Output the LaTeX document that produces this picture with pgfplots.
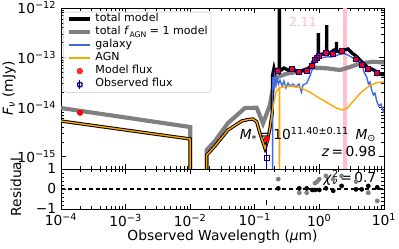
\documentclass[border=0pt]{standalone}
\usepackage{fontspec}
\setmainfont{DejaVu Sans}
\usepackage{pgfplots}
\pgfplotsset{compat=1.18}
\definecolor{mgray}{RGB}{128,128,128}
\definecolor{royal}{RGB}{65,105,225}
\definecolor{agn}{RGB}{255,165,0}
\definecolor{obsblue}{RGB}{0,0,139}
\definecolor{bandpink}{RGB}{255,192,203}
\newcommand{\lsub}[1]{\raisebox{-0.28em}{\fontsize{5.6}{6}\selectfont #1}}
\begin{document}
\begin{tikzpicture}
\pgfplotsset{
  every axis/.append style={
    scale only axis, width=234pt, xmode=log, xmin=1e-4, xmax=10,
    tick align=inside, major tick length=3.5pt, minor tick length=2pt,
    axis line style={line width=0.6pt}, every tick/.style={black, line width=0.5pt},
    xtick={1e-4,1e-3,1e-2,1e-1,1,10},
  }
}
% ---------------- top panel ----------------
\begin{axis}[at={(0,29pt)}, height=116.6pt, ymode=log, ymin=5.7e-16, ymax=1e-12,
  xticklabels={},
  ytick={1e-15,1e-14,1e-13,1e-12},
  yticklabels={10\textsuperscript{−15},10\textsuperscript{−14},10\textsuperscript{−13},10\textsuperscript{−12}},
  ylabel={\textit{F}\textsubscript{\textit{ν}} (mJy)},
  ylabel style={at={(axis description cs:-0.161,0.5)}, anchor=center},
  legend cell align=left,
  legend style={at={(0.007,0.977)}, anchor=north west, font=\fontsize{8}{9}\selectfont,
    draw=black!20, fill=white, fill opacity=0.8, text opacity=1, rounded corners=2pt,
    row sep=3.6pt, inner xsep=2.5pt, inner ysep=2.3pt,
    nodes={inner sep=0pt, text height=4.6pt, text depth=1.2pt}},
]
\addlegendimage{legend image code/.code={\draw[black, line width=2.6pt] (0pt,0pt) -- (15.5pt,0pt);}}
\addlegendentry{\ total model}
\addlegendimage{legend image code/.code={\draw[mgray, line width=2.6pt] (0pt,0pt) -- (15.5pt,0pt);}}
\addlegendentry{\ total \textit{f}\lsub{AGN} = 1 model}
\addlegendimage{legend image code/.code={\draw[royal, line width=1pt] (0pt,0pt) -- (15.5pt,0pt);}}
\addlegendentry{\ galaxy}
\addlegendimage{legend image code/.code={\draw[agn, line width=1pt] (0pt,0pt) -- (15.5pt,0pt);}}
\addlegendentry{\ AGN}
\addlegendimage{legend image code/.code={\fill[red] (8pt,0pt) circle (2pt);}}
\addlegendentry{\ Model flux}
\addlegendimage{legend image code/.code={\draw[obsblue, line width=0.6pt] (8pt,-3pt) -- (8pt,3pt); \draw[obsblue, line width=0.6pt] (6.3pt,-1.7pt) rectangle (9.7pt,1.7pt);}}
\addlegendentry{\ Observed flux}

% pink band
\addplot[bandpink, line width=3pt, forget plot] coordinates {(2.46,5.7e-16) (2.46,1e-12)};

% total f_AGN = 1 model
\addplot[mgray, line width=3pt, forget plot] coordinates {
(1e-4,9.64e-15) (1e-2,3.99e-15) (1e-2,1e-17) (0.0180,1e-17) (0.0180,1.37e-15) (0.0242,2.08e-15)
(0.0385,4.80e-15) (0.0705,9.64e-15) (0.107,9.77e-15) (0.134,4.73e-15) (0.172,1.11e-14)
(0.191,2.44e-14) (0.222,4.06e-14) (0.318,4.78e-14) (0.501,5.25e-14) (0.796,6.31e-14)
(1.31,6.08e-14) (2.08,5.62e-14) (2.98,6.46e-14) (4.25,7.60e-14) (6.76,8.26e-14) (10,7.96e-14)};

% total model
\addplot[black, line width=2.4pt, forget plot] coordinates {
(1e-4,5.27e-15) (1e-2,2.29e-15) (1e-2,1e-17) (0.0180,1e-17)
(0.0180,1.09e-15) (0.0202,1.27e-15) (0.0242,1.65e-15) (0.0385,3.47e-15) (0.0627,5.27e-15)
(0.0785,5.65e-15) (0.0938,5.78e-15) (0.107,5.10e-15) (0.120,3.02e-15) (0.144,1.48e-15)
(0.155,1.99e-15) (0.172,3.81e-15) (0.186,7.5e-15) (0.189,4.45e-14) (0.198,6.0e-14)
(0.206,4.8e-14) (0.221,5.62e-14) (0.237,5.13e-14) (0.2400,5.3e-14) (0.2408,2e-12) (0.2416,5.3e-14)
(0.283,6.17e-14) (0.327,5.62e-14) (0.377,6.17e-14) (0.434,5.37e-14) (0.501,5.13e-14)
(0.578,5.62e-14) (0.667,6.03e-14) (0.742,6.78e-14) (0.825,8.95e-14) (0.900,1.03e-13)
(0.962,1.08e-13) (0.966,3.13e-13) (0.970,1.10e-13) (1.0,1.13e-13) (1.11,1.18e-13)
(1.295,1.2e-13) (1.30,4.54e-13) (1.305,1.2e-13) (1.46,1.24e-13) (1.68,1.42e-13)
(1.835,1.4e-13) (1.84,2.07e-13) (1.845,1.35e-13) (2.08,1.30e-13) (2.40,1.42e-13)
(2.77,1.49e-13) (3.20,1.24e-13) (3.69,1.08e-13) (4.25,8.95e-14) (4.90,7.43e-14)
(5.65,6.17e-14) (6.52,5.89e-14) (7.80,5.13e-14) (8.99,4.67e-14) (10,4.45e-14)};

% galaxy
\addplot[royal, line width=1pt, forget plot] coordinates {
(0.189,1e-17) (0.189,4.06e-14) (0.195,2.22e-14) (0.202,4.26e-14) (0.213,2.81e-14) (0.221,3.88e-14)
(0.233,2.94e-14) (0.246,3.53e-14) (0.264,2.67e-14) (0.283,3.37e-14) (0.304,2.44e-14)
(0.327,3.08e-14) (0.351,2.67e-14) (0.390,2.94e-14) (0.434,2.55e-14) (0.483,2.94e-14)
(0.528,2.02e-14) (0.557,2.81e-14) (0.636,3.03e-14) (0.715,4.26e-14) (0.805,6.56e-14)
(0.886,8.53e-14) (1.0,9.68e-14) (1.26,1.03e-13) (1.64,1.04e-13) (1.94,1.13e-13)
(2.34,1.22e-13) (2.77,1.13e-13) (3.35,9.68e-14) (3.96,8.95e-14) (4.52,7.67e-14)
(4.90,5.13e-14) (5.40,4.06e-14) (5.75,2.94e-14) (6.07,3.22e-14) (6.45,2.22e-14)
(6.87,1.76e-14) (7.26,1.93e-14) (7.80,1.27e-14) (8.37,1.06e-14) (8.99,1.16e-14)
(9.79,8.11e-15) (10,7.64e-15)};

% AGN
\addplot[agn, line width=1pt, forget plot] coordinates {
(1e-4,5.27e-15) (1e-2,2.29e-15) (1e-2,1e-17) (0.0180,1e-17)
(0.0180,1.09e-15) (0.0202,1.27e-15) (0.0242,1.65e-15) (0.0385,3.47e-15) (0.0627,5.27e-15)
(0.0785,5.65e-15) (0.0938,5.78e-15) (0.107,5.10e-15) (0.120,3.02e-15) (0.144,1.48e-15)
(0.155,1.99e-15) (0.172,3.81e-15) (0.191,9.64e-15) (0.213,2.02e-14) (0.239,2.44e-14)
(0.2405,1e-17) (0.2412,1e-17) (0.2425,2.46e-14) (0.293,2.61e-14) (0.351,2.67e-14)
(0.501,2.49e-14) (0.715,2.02e-14) (1.0,1.53e-14) (1.43,1.16e-14) (1.90,9.42e-15)
(2.27,8.79e-15) (2.71,9.64e-15) (3.48,1.40e-14) (4.47,2.02e-14) (6.07,2.73e-14)
(7.80,3.15e-14) (10,3.22e-14)};

% model fluxes
\addplot[only marks, mark=*, mark size=2pt, red, forget plot] coordinates {
(1.97e-4,7.74e-15) (0.153,2.29e-15)
(0.231,5.44e-14) (0.372,5.89e-14) (0.489,5.13e-14) (0.636,5.44e-14) (0.776,7.00e-14)
(0.855,8.95e-14) (0.927,1.01e-13) (0.997,1.08e-13) (1.265,1.22e-13) (1.64,1.18e-13)
(2.21,1.32e-13) (3.69,9.25e-14) (4.52,7.10e-14) (5.72,5.81e-14) (7.88,4.82e-14)};

% observed fluxes
\addplot[only marks, mark=square, mark size=1.8pt, obsblue, mark options={line width=0.6pt},
  error bars/.cd, y dir=both, y explicit, error bar style={obsblue, line width=0.8pt}, error mark=none]
  coordinates {
(0.153,9.33e-16) += (0,1.45e-15) -= (0,9.0e-16)
(0.231,5.5e-14) +- (0,3e-15)
(0.372,5.9e-14) +- (0,3e-15)
(0.489,5.15e-14) +- (0,3e-15)
(0.636,5.4e-14) +- (0,3e-15)
(0.776,6.9e-14) +- (0,3e-15)
(0.855,8.8e-14) +- (0,4e-15)
(0.927,1.0e-13) +- (0,5e-15)
(0.997,1.07e-13) +- (0,5e-15)
(1.265,1.22e-13) +- (0,6e-15)
(1.64,1.17e-13) +- (0,6e-15)
(2.21,1.34e-13) +- (0,7e-15)
(3.69,9.2e-14) +- (0,5e-15)
(4.52,7.0e-14) +- (0,4e-15)
(5.72,5.9e-14) +- (0,3e-15)
(7.88,4.9e-14) +- (0,3e-15)};

\node[bandpink, font=\fontsize{9}{10}\selectfont] at (rel axis cs:0.749,0.913) {2.11};
\node[anchor=east, inner sep=0pt] at (rel axis cs:0.977,0.211)
  {\textit{M}\textsubscript{*}\,=\,10\textsuperscript{11.40±0.11}\, \textit{M}\textsubscript{⊙}};
\node[anchor=east, inner sep=0pt] at (rel axis cs:0.977,0.107) {\textit{z}\,=\,0.98};
\end{axis}
% ---------------- residual panel ----------------
\begin{axis}[at={(0,0)}, height=29pt, ymin=-1, ymax=1,
  ytick={-1,0,1}, yticklabels={−1,0,1}, minor y tick num=4,
  xticklabels={10\textsuperscript{−4},10\textsuperscript{−3},10\textsuperscript{−2},10\textsuperscript{−1},10\textsuperscript{0},10\textsuperscript{1}},
  xlabel={Observed Wavelength (\textit{μ}m)},
  xlabel style={at={(axis description cs:0.5,-0.7)}, anchor=center},
  ylabel={Residual},
  ylabel style={at={(axis description cs:-0.139,0.55)}, anchor=center},
]
\addplot[black, line width=1pt, dash pattern=on 3pt off 2pt] coordinates {(1e-4,0) (10,0)};
\addplot[black, line width=0.8pt] coordinates {(0.153,-0.55) (0.153,-0.8)};
\addplot[only marks, mark=*, mark size=1.5pt, gray] coordinates {
(0.231,0.49) (0.489,-0.19) (0.636,-0.19) (0.855,0.29) (0.927,0.37) (0.997,0.49)
(1.265,0.65) (1.64,0.49) (2.21,0.65) (3.69,0.37) (5.72,-0.19) (7.88,-0.6)};
\addplot[only marks, mark=*, mark size=1.5pt, black] coordinates {
(0.231,0.03) (0.489,0.03) (0.636,0.03) (0.776,-0.05) (0.855,-0.05) (0.997,-0.05)
(1.265,0.03) (1.64,-0.09) (2.21,0.15) (3.69,-0.02) (4.52,-0.02) (5.72,0.15) (7.88,0.08)};
\node[anchor=east, inner sep=0pt] at (rel axis cs:0.977,0.775)
  {\textit{χ}\rlap{\textsuperscript{2}}\textsubscript{\textit{ν}}\,=\,0.7};
\end{axis}
\pgfresetboundingbox
\path (-44.2pt,-28.3pt) rectangle (244.9pt,151.4pt);
\end{tikzpicture}
\end{document}
